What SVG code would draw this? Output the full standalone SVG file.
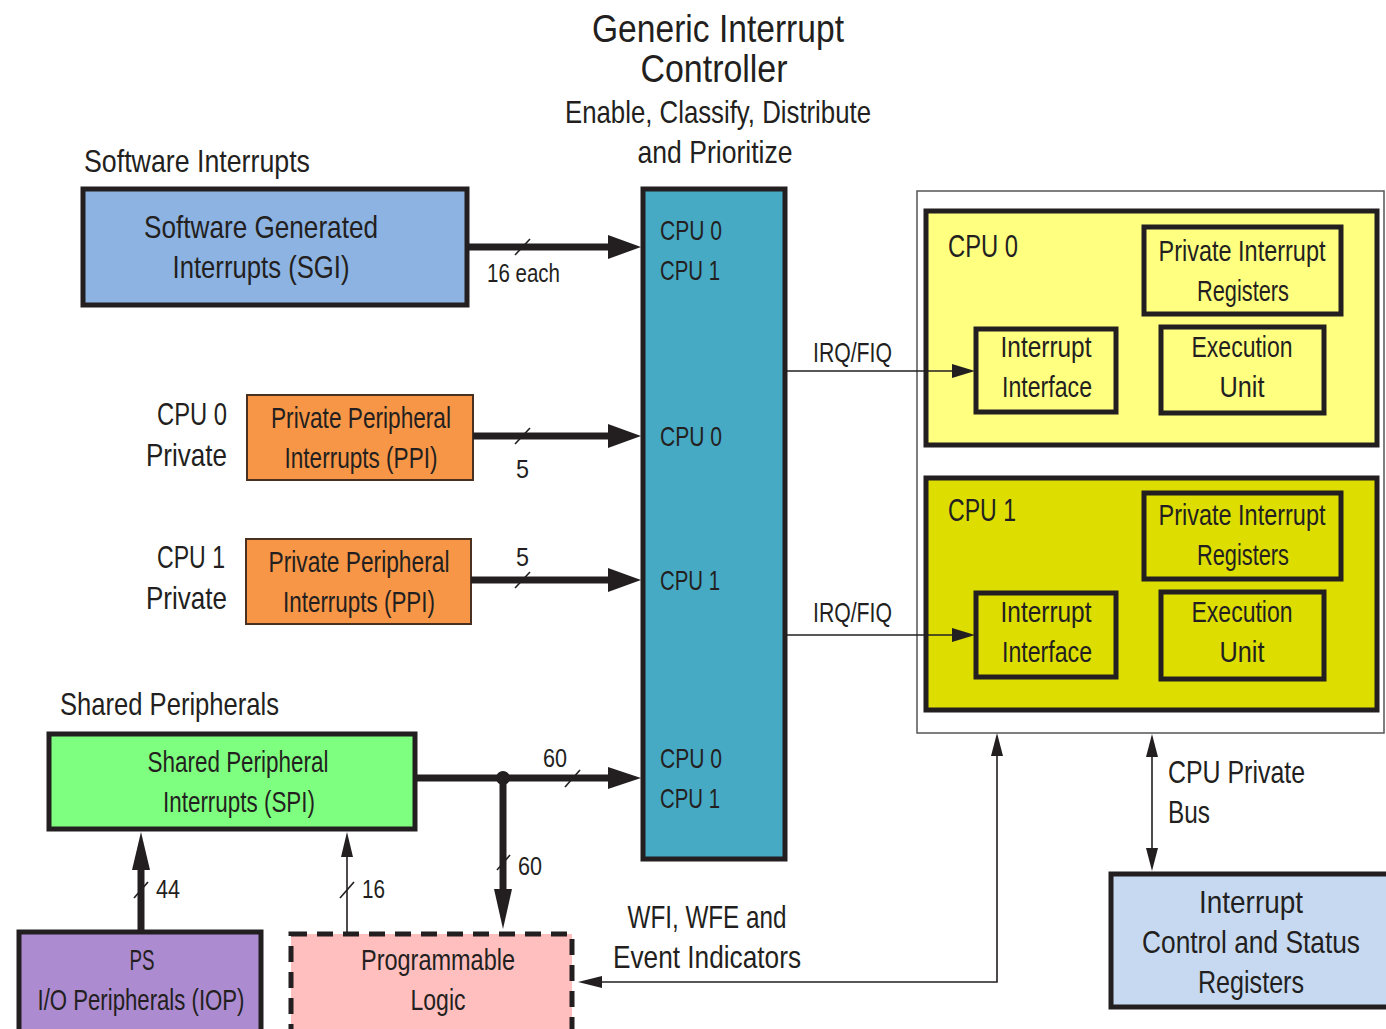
<svg xmlns="http://www.w3.org/2000/svg" width="1386" height="1029" viewBox="0 0 1386 1029">
<style>
text{font-family:"Liberation Sans","DejaVu Sans",sans-serif;fill:#231f20}
.t28{font-size:32px}
.t26{font-size:30px}
.t24{font-size:28px}
.t22{font-size:25px}
.m{text-anchor:middle}
.box{stroke:#231f20;stroke-width:5}
.thick{stroke:#231f20;stroke-width:7;fill:none}
.thin{stroke:#231f20;stroke-width:1.6;fill:none}
.slash{stroke:#231f20;stroke-width:1.6}
.head{fill:#231f20}
</style>
<rect width="1386" height="1029" fill="#ffffff"/>

<g id="title">
<text class="m" x="718" y="42" font-size="38" textLength="252" lengthAdjust="spacingAndGlyphs">Generic Interrupt</text>
<text class="m" x="714" y="82" font-size="38" textLength="147" lengthAdjust="spacingAndGlyphs">Controller</text>
<text class="m" x="718" y="123" font-size="32" textLength="306" lengthAdjust="spacingAndGlyphs">Enable, Classify, Distribute</text>
<text class="m" x="715" y="163" font-size="32" textLength="155" lengthAdjust="spacingAndGlyphs">and Prioritize</text>
</g>

<g id="sgi">
<text class="t28" x="84" y="172" textLength="226" lengthAdjust="spacingAndGlyphs">Software Interrupts</text>
<rect class="box" x="83" y="189" width="384" height="116" fill="#8DB3E2"/>
<text class="t28 m" x="261" y="238" textLength="234" lengthAdjust="spacingAndGlyphs">Software Generated</text>
<text class="t28 m" x="261" y="278" textLength="177" lengthAdjust="spacingAndGlyphs">Interrupts (SGI)</text>
</g>

<g id="gic">
<rect class="box" x="643" y="189" width="142" height="670" fill="#47AAC5"/>
<text class="t24" x="660" y="240" textLength="62" lengthAdjust="spacingAndGlyphs">CPU 0</text>
<text class="t24" x="660" y="280" textLength="60" lengthAdjust="spacingAndGlyphs">CPU 1</text>
<text class="t24" x="660" y="446" textLength="62" lengthAdjust="spacingAndGlyphs">CPU 0</text>
<text class="t24" x="660" y="590" textLength="60" lengthAdjust="spacingAndGlyphs">CPU 1</text>
<text class="t24" x="660" y="768" textLength="62" lengthAdjust="spacingAndGlyphs">CPU 0</text>
<text class="t24" x="660" y="808" textLength="60" lengthAdjust="spacingAndGlyphs">CPU 1</text>
</g>

<g id="ppi0">
<text class="t28" x="227" y="425" text-anchor="end" textLength="70" lengthAdjust="spacingAndGlyphs">CPU 0</text>
<text class="t28" x="227" y="466" text-anchor="end" textLength="81" lengthAdjust="spacingAndGlyphs">Private</text>
<rect x="247" y="395" width="226" height="85" fill="#F79646" stroke="#4a3020" stroke-width="2"/>
<text class="t26 m" x="361" y="428" textLength="180" lengthAdjust="spacingAndGlyphs">Private Peripheral</text>
<text class="t26 m" x="361" y="468" textLength="153" lengthAdjust="spacingAndGlyphs">Interrupts (PPI)</text>
</g>

<g id="ppi1">
<text class="t28" x="225" y="568" text-anchor="end" textLength="68" lengthAdjust="spacingAndGlyphs">CPU 1</text>
<text class="t28" x="227" y="609" text-anchor="end" textLength="81" lengthAdjust="spacingAndGlyphs">Private</text>
<rect x="246" y="539" width="225" height="85" fill="#F79646" stroke="#4a3020" stroke-width="2"/>
<text class="t26 m" x="359" y="572" textLength="181" lengthAdjust="spacingAndGlyphs">Private Peripheral</text>
<text class="t26 m" x="359" y="612" textLength="152" lengthAdjust="spacingAndGlyphs">Interrupts (PPI)</text>
</g>

<g id="spi">
<text class="t28" x="60" y="715" textLength="219" lengthAdjust="spacingAndGlyphs">Shared Peripherals</text>
<rect class="box" x="49" y="734" width="366" height="95" fill="#7FFF7F"/>
<text class="t26 m" x="238" y="772" textLength="181" lengthAdjust="spacingAndGlyphs">Shared Peripheral</text>
<text class="t26 m" x="239" y="812" textLength="152" lengthAdjust="spacingAndGlyphs">Interrupts (SPI)</text>
</g>

<g id="iop">
<rect class="box" x="19" y="932" width="242" height="110" fill="#AC8BD0"/>
<text class="t26 m" x="142" y="970" textLength="25" lengthAdjust="spacingAndGlyphs">PS</text>
<text class="t26 m" x="141" y="1010" textLength="207" lengthAdjust="spacingAndGlyphs">I/O Peripherals (IOP)</text>
</g>

<g id="pl">
<rect x="291" y="934" width="281" height="110" fill="#FFBFBF" stroke="#231f20" stroke-width="5" stroke-dasharray="16 10"/>
<text class="t26 m" x="438" y="970" textLength="154" lengthAdjust="spacingAndGlyphs">Programmable</text>
<text class="t26 m" x="438" y="1010" textLength="55" lengthAdjust="spacingAndGlyphs">Logic</text>
</g>

<g id="cpu-block">
<rect x="917" y="191" width="467" height="542" fill="#ffffff" stroke="#555555" stroke-width="1.5"/>
</g>

<g id="cpu0">
<rect class="box" x="926" y="211" width="451" height="234" fill="#FFFF80"/>
<text class="t28" x="948" y="257" textLength="70" lengthAdjust="spacingAndGlyphs">CPU 0</text>
<g id="cpu0-pir">
<rect class="box" x="1144" y="227" width="197" height="87" fill="none"/>
<text class="t26 m" x="1242" y="261" textLength="167" lengthAdjust="spacingAndGlyphs">Private Interrupt</text>
<text class="t26 m" x="1243" y="301" textLength="92" lengthAdjust="spacingAndGlyphs">Registers</text>
</g>
<g id="cpu0-ii">
<rect class="box" x="976" y="329" width="140" height="83" fill="none"/>
<text class="t26 m" x="1046" y="357" textLength="91" lengthAdjust="spacingAndGlyphs">Interrupt</text>
<text class="t26 m" x="1047" y="397" textLength="90" lengthAdjust="spacingAndGlyphs">Interface</text>
</g>
<g id="cpu0-eu">
<rect class="box" x="1161" y="327" width="163" height="86" fill="none"/>
<text class="t26 m" x="1242" y="357" textLength="101" lengthAdjust="spacingAndGlyphs">Execution</text>
<text class="t26 m" x="1242" y="397" textLength="45" lengthAdjust="spacingAndGlyphs">Unit</text>
</g>
</g>

<g id="cpu1">
<rect class="box" x="926" y="478" width="451" height="232" fill="#DDDD00"/>
<text class="t28" x="948" y="521" textLength="68" lengthAdjust="spacingAndGlyphs">CPU 1</text>
<g id="cpu1-pir">
<rect class="box" x="1144" y="493" width="197" height="86" fill="none" stroke="#0a1a08"/>
<text class="t26 m" x="1242" y="525" textLength="167" lengthAdjust="spacingAndGlyphs">Private Interrupt</text>
<text class="t26 m" x="1243" y="565" textLength="92" lengthAdjust="spacingAndGlyphs">Registers</text>
</g>
<g id="cpu1-ii">
<rect class="box" x="976" y="593" width="140" height="84" fill="none" stroke="#0a1a08"/>
<text class="t26 m" x="1046" y="622" textLength="91" lengthAdjust="spacingAndGlyphs">Interrupt</text>
<text class="t26 m" x="1047" y="662" textLength="90" lengthAdjust="spacingAndGlyphs">Interface</text>
</g>
<g id="cpu1-eu">
<rect class="box" x="1161" y="592" width="163" height="87" fill="none" stroke="#0a1a08"/>
<text class="t26 m" x="1242" y="622" textLength="101" lengthAdjust="spacingAndGlyphs">Execution</text>
<text class="t26 m" x="1242" y="662" textLength="45" lengthAdjust="spacingAndGlyphs">Unit</text>
</g>
</g>

<g id="icsr">
<rect class="box" x="1111" y="874" width="285" height="133" fill="#C6D9F1"/>
<text class="t28 m" x="1251" y="913" textLength="104" lengthAdjust="spacingAndGlyphs">Interrupt</text>
<text class="t28 m" x="1251" y="953" textLength="218" lengthAdjust="spacingAndGlyphs">Control and Status</text>
<text class="t28 m" x="1251" y="993" textLength="106" lengthAdjust="spacingAndGlyphs">Registers</text>
</g>

<g id="connectors">
<line class="thick" x1="467" y1="247" x2="612" y2="247"/>
<polygon class="head" points="608,235 641,247 608,259"/>
<line class="slash" x1="515" y1="255" x2="530" y2="239"/>
<text class="t22" x="487" y="282" textLength="73" lengthAdjust="spacingAndGlyphs">16 each</text>
<line class="thick" x1="473" y1="436" x2="612" y2="436"/>
<polygon class="head" points="608,424 641,436 608,448"/>
<line class="slash" x1="515" y1="444" x2="530" y2="428"/>
<text class="t22" x="516" y="478" textLength="13" lengthAdjust="spacingAndGlyphs">5</text>
<line class="thick" x1="471" y1="580" x2="612" y2="580"/>
<polygon class="head" points="608,568 641,580 608,592"/>
<line class="slash" x1="515" y1="588" x2="530" y2="572"/>
<text class="t22" x="516" y="566" textLength="13" lengthAdjust="spacingAndGlyphs">5</text>
<line class="thick" x1="415" y1="778" x2="612" y2="778"/>
<polygon class="head" points="608,767 641,778 608,789"/>
<line class="slash" x1="565" y1="787" x2="580" y2="770"/>
<text class="t22" x="543" y="767" textLength="24" lengthAdjust="spacingAndGlyphs">60</text>
<circle cx="503" cy="778" r="7" fill="#231f20"/>
<line class="thick" x1="503" y1="778" x2="503" y2="894"/>
<polygon class="head" points="494,889 503,929 512,889"/>
<line class="slash" x1="497" y1="870" x2="510" y2="855"/>
<text class="t22" x="518" y="875" textLength="24" lengthAdjust="spacingAndGlyphs">60</text>
<line class="thick" x1="141" y1="932" x2="141" y2="866" stroke-width="6"/>
<polygon class="head" points="132,870 141,832 150,870"/>
<line class="slash" x1="134" y1="898" x2="148" y2="882"/>
<text class="t22" x="156" y="898" textLength="24" lengthAdjust="spacingAndGlyphs">44</text>
<line class="thin" x1="347" y1="934" x2="347" y2="852"/>
<polygon class="head" points="341,857 347,832 353,857"/>
<line class="slash" x1="340" y1="898" x2="354" y2="882"/>
<text class="t22" x="362" y="898" textLength="23" lengthAdjust="spacingAndGlyphs">16</text>
<line class="thin" x1="786" y1="371" x2="960" y2="371"/>
<polygon class="head" points="952,364 975,371 952,378"/>
<text class="t24" x="813" y="362" textLength="79" lengthAdjust="spacingAndGlyphs">IRQ/FIQ</text>
<line class="thin" x1="786" y1="635" x2="960" y2="635"/>
<polygon class="head" points="952,628 975,635 952,642"/>
<text class="t24" x="813" y="622" textLength="79" lengthAdjust="spacingAndGlyphs">IRQ/FIQ</text>
<polyline class="thin" points="997,750 997,982 596,982"/>
<polygon class="head" points="991,756 997,733 1003,756"/>
<polygon class="head" points="602,976 578,982 602,988"/>
<text class="t28 m" x="707" y="928" textLength="159" lengthAdjust="spacingAndGlyphs">WFI, WFE and</text>
<text class="t28 m" x="707" y="968" textLength="188" lengthAdjust="spacingAndGlyphs">Event Indicators</text>
<line class="thin" x1="1152" y1="750" x2="1152" y2="855"/>
<polygon class="head" points="1146,757 1152,734 1158,757"/>
<polygon class="head" points="1146,848 1152,871 1158,848"/>
<text class="t28" x="1168" y="783" textLength="137" lengthAdjust="spacingAndGlyphs">CPU Private</text>
<text class="t28" x="1168" y="823" textLength="42" lengthAdjust="spacingAndGlyphs">Bus</text>
</g>
</svg>
